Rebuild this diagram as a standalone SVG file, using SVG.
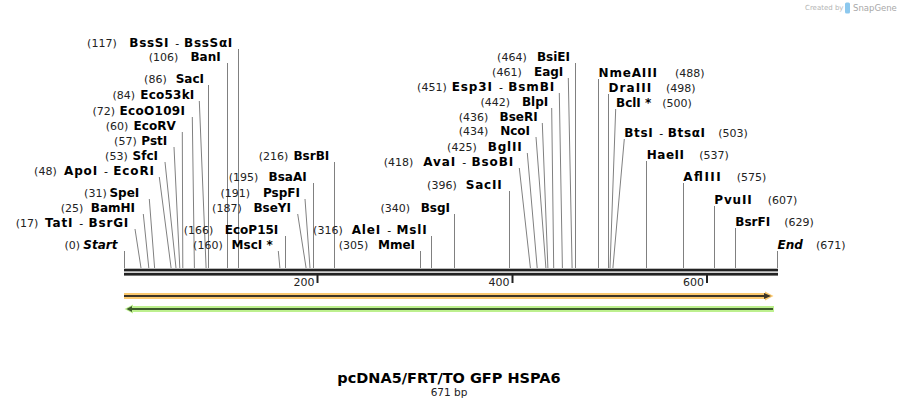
<svg xmlns="http://www.w3.org/2000/svg" width="902" height="408" viewBox="0 0 902 408">
<style>
text{font-family:"DejaVu Sans","Liberation Sans",sans-serif}
.n{font-size:11px;fill:#222}
.nm{font-size:11px;fill:#000}
.b{font-size:12px;font-weight:bold;fill:#000}
.bi{font-size:12px;font-weight:bold;font-style:italic;fill:#000}
.e{text-anchor:end}
.l{stroke:#808080;stroke-width:1;fill:none}
.tk{stroke:#222;stroke-width:2}
.rl{font-size:11px;fill:#222;text-anchor:end}
</style>
<rect width="902" height="408" fill="#fff"/>
<g id="watermark">
<text x="805" y="10" font-size="7" fill="#b4b4b4">Created by</text>
<rect x="845" y="2.5" width="5" height="11" rx="1.5" fill="#8cc8ee"/>
<text x="853" y="11" font-size="8.5" fill="#a8a8a8">SnapGene</text>
</g>
<g id="connectors">
<path class="l" d="M238.5 49V268M227.5 63V268M208.5 85V268M199.3 101L206.1 268M192.3 117L194.4 268M182.3 132L182.8 268M174 147L179.8 268M165 162L176 268M159.3 177L171.1 268M149.3 199L154.6 268M143.3 214L148.8 268M135 229L141 268M124.5 251V268"/>
<path class="l" d="M334.5 162V268M313.5 183V268M305 199L310 268M297.7 214L306.1 268M285.5 236V268M278.3 251L279.9 268M431.5 236V268M420.5 251V268M454.5 214V268M509.5 191V268"/>
<path class="l" d="M519.3 168L530.4 268M527.3 153L537.2 268M536 137L545.9 268M542.3 123L547.9 268M551.7 108L553.7 268M559.3 93L562.4 268M568.3 78L572.1 268M575.5 63V268"/>
<path class="l" d="M598.5 79V268M608.5 94V268M615.7 109L610 268M624.3 139L612.9 268M646.5 161V268M683.5 183V268M714.5 206V268M735.5 228V268M777.5 251V268"/>
</g>
<g id="ruler">
<rect x="124" y="268.7" width="654" height="2.7" fill="#222"/>
<rect x="124" y="272.8" width="654" height="2.8" fill="#222"/>
<line class="tk" x1="317.5" y1="275" x2="317.5" y2="283"/>
<line class="tk" x1="512.5" y1="275" x2="512.5" y2="283"/>
<line class="tk" x1="707" y1="275" x2="707" y2="283"/>
<text class="rl" x="314.5" y="286">200</text>
<text class="rl" x="509.5" y="286">400</text>
<text class="rl" x="704" y="286">600</text>
</g>
<g id="feature-forward">
<rect x="124" y="293" width="642" height="6" fill="#fbc96f"/>
<polygon points="765,291.5 773.5,296 765,300.5" fill="#fbc96f"/>
<line x1="124" y1="296" x2="766" y2="296" stroke="#3d3526" stroke-width="2"/>
<polygon points="764,293 771,296 764,299" fill="#3d3526"/>
</g>
<g id="feature-reverse">
<rect x="132" y="306" width="642" height="6" fill="#bdf08e"/>
<polygon points="133,304.5 124.5,309 133,313.5" fill="#bdf08e"/>
<line x1="130" y1="309" x2="773" y2="309" stroke="#3c5a2b" stroke-width="2"/>
<polygon points="132,306 126.5,309 132,312" fill="#3c5a2b"/>
</g>
<g id="s117"><text class="n e" x="116.7" y="47">(117)</text><text class="nm e" x="232.3" y="47" textLength="103" lengthAdjust="spacing"><tspan class="b">BssSI</tspan><tspan dx="6">- </tspan><tspan class="b">BssSαI</tspan></text></g>
<g id="s106"><text class="n e" x="178.3" y="61">(106)</text><text class="b e" x="220.7" y="61">BanI</text></g>
<g id="s86"><text class="n e" x="166.7" y="83">(86)</text><text class="b e" x="204" y="83">SacI</text></g>
<g id="s84"><text class="n e" x="135" y="99">(84)</text><text class="b e" x="194.3" y="99" textLength="54" lengthAdjust="spacing">Eco53kI</text></g>
<g id="s72"><text class="n e" x="115" y="115">(72)</text><text class="b e" x="185" y="115" textLength="65.5" lengthAdjust="spacing">EcoO109I</text></g>
<g id="s60"><text class="n e" x="128.3" y="130">(60)</text><text class="b e" x="175.7" y="130">EcoRV</text></g>
<g id="s57"><text class="n e" x="136.7" y="145">(57)</text><text class="b e" x="167.3" y="145">PstI</text></g>
<g id="s53"><text class="n e" x="127.7" y="160">(53)</text><text class="b e" x="158" y="160">SfcI</text></g>
<g id="s48"><text class="n e" x="56.7" y="175">(48)</text><text class="nm e" x="154" y="175" textLength="90" lengthAdjust="spacing"><tspan class="b">ApoI</tspan><tspan dx="6">- </tspan><tspan class="b">EcoRI</tspan></text></g>
<g id="s31"><text class="n e" x="106.7" y="197">(31)</text><text class="b e" x="139.3" y="197">SpeI</text></g>
<g id="s25"><text class="n e" x="83.3" y="212">(25)</text><text class="b e" x="135" y="212">BamHI</text></g>
<g id="s17"><text class="n e" x="38.3" y="227">(17)</text><text class="nm e" x="128.3" y="227" textLength="83.3" lengthAdjust="spacing"><tspan class="b">TatI</tspan><tspan dx="6">- </tspan><tspan class="b">BsrGI</tspan></text></g>
<g id="s0"><text class="n e" x="80" y="249">(0)</text><text class="bi e" x="117.5" y="249">Start</text></g>
<g id="s216"><text class="n e" x="288.3" y="160">(216)</text><text class="b e" x="329.3" y="160">BsrBI</text></g>
<g id="s195"><text class="n e" x="258.3" y="181">(195)</text><text class="b e" x="306.7" y="181">BsaAI</text></g>
<g id="s191"><text class="n e" x="250" y="197">(191)</text><text class="b e" x="300" y="197">PspFI</text></g>
<g id="s187"><text class="n e" x="241.7" y="212">(187)</text><text class="b e" x="291" y="212">BseYI</text></g>
<g id="s166"><text class="n e" x="213.3" y="234">(166)</text><text class="b e" x="278.3" y="234">EcoP15I</text></g>
<g id="s160"><text class="n e" x="222.7" y="249">(160)</text><text class="b e" x="272.7" y="249">MscI *</text></g>
<g id="s316"><text class="n e" x="342.7" y="234">(316)</text><text class="nm e" x="426.7" y="234" textLength="75" lengthAdjust="spacing"><tspan class="b">AleI</tspan><tspan dx="6">- </tspan><tspan class="b">MslI</tspan></text></g>
<g id="s305"><text class="n e" x="368.3" y="249">(305)</text><text class="b e" x="415" y="249">MmeI</text></g>
<g id="s340"><text class="n e" x="410" y="212">(340)</text><text class="b e" x="450" y="212">BsgI</text></g>
<g id="s396"><text class="n e" x="456.7" y="189">(396)</text><text class="b e" x="501.7" y="189" textLength="36" lengthAdjust="spacing">SacII</text></g>
<g id="s418"><text class="n e" x="413.3" y="166">(418)</text><text class="nm e" x="513.3" y="166" textLength="90" lengthAdjust="spacing"><tspan class="b">AvaI</tspan><tspan dx="6">- </tspan><tspan class="b">BsoBI</tspan></text></g>
<g id="s425"><text class="n e" x="476.7" y="151">(425)</text><text class="b e" x="521.7" y="151" textLength="34" lengthAdjust="spacing">BglII</text></g>
<g id="s434"><text class="n e" x="488.3" y="135">(434)</text><text class="b e" x="530" y="135">NcoI</text></g>
<g id="s436"><text class="n e" x="488.3" y="121">(436)</text><text class="b e" x="537.7" y="121">BseRI</text></g>
<g id="s442"><text class="n e" x="510" y="106">(442)</text><text class="b e" x="548.3" y="106">BlpI</text></g>
<g id="s451"><text class="n e" x="446.7" y="91">(451)</text><text class="nm e" x="554.3" y="91" textLength="102.6" lengthAdjust="spacing"><tspan class="b">Esp3I</tspan><tspan dx="6">- </tspan><tspan class="b">BsmBI</tspan></text></g>
<g id="s461"><text class="n e" x="521.7" y="76">(461)</text><text class="b e" x="563.3" y="76">EagI</text></g>
<g id="s464"><text class="n e" x="526.7" y="61">(464)</text><text class="b e" x="570" y="61">BsiEI</text></g>
<g id="s488"><text class="b" x="598.5" y="77" textLength="58.4" lengthAdjust="spacing">NmeAIII</text><text class="n" x="675" y="77">(488)</text></g>
<g id="s498"><text class="b" x="608.5" y="92" textLength="42.7" lengthAdjust="spacing">DraIII</text><text class="n" x="666" y="92">(498)</text></g>
<g id="s500"><text class="b" x="616" y="107">BclI *</text><text class="n" x="662.3" y="107">(500)</text></g>
<g id="s503"><text class="nm" x="624.3" y="137" textLength="80.7" lengthAdjust="spacing"><tspan class="b">BtsI</tspan><tspan dx="6">- </tspan><tspan class="b">BtsαI</tspan></text><text class="n" x="718.3" y="137">(503)</text></g>
<g id="s537"><text class="b" x="646.7" y="159" textLength="37.3" lengthAdjust="spacing">HaeII</text><text class="n" x="699.3" y="159">(537)</text></g>
<g id="s575"><text class="b" x="683.3" y="181" textLength="37.4" lengthAdjust="spacing">AflIII</text><text class="n" x="736.7" y="181">(575)</text></g>
<g id="s607"><text class="b" x="714.3" y="204" textLength="37.4" lengthAdjust="spacing">PvuII</text><text class="n" x="767.7" y="204">(607)</text></g>
<g id="s629"><text class="b" x="735.3" y="226">BsrFI</text><text class="n" x="784.3" y="226">(629)</text></g>
<g id="s671"><text class="bi" x="777.5" y="249">End</text><text class="n" x="816" y="249">(671)</text></g>
<g id="title">
<text x="449" y="383" text-anchor="middle" font-size="14.5" font-weight="bold" fill="#000">pcDNA5/FRT/TO GFP HSPA6</text>
<text x="449" y="396" text-anchor="middle" font-size="10.5" fill="#222">671 bp</text>
</g>
</svg>
